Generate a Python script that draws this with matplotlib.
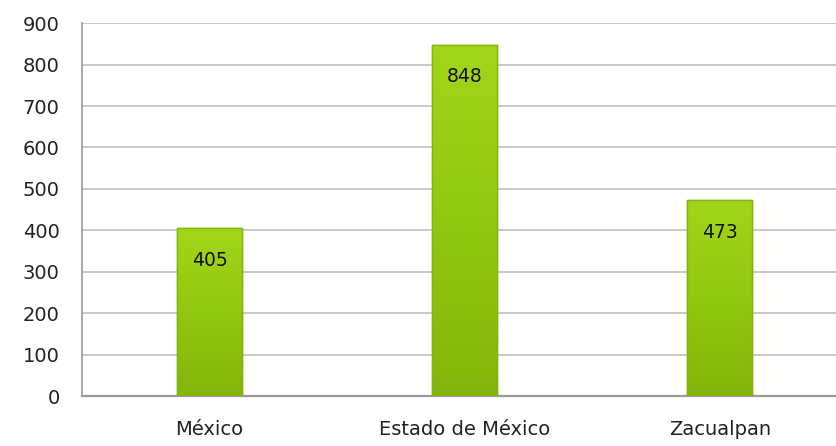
import numpy as np
import matplotlib.pyplot as plt
from matplotlib.colors import LinearSegmentedColormap

categories = ["México", "Estado de México", "Zacualpan"]
values = [405, 848, 473]
yticks = [0, 100, 200, 300, 400, 500, 600, 700, 800, 900]

plt.rcParams['font.family'] = ['DejaVu Sans']

fig = plt.figure(figsize=(8.36, 4.46), dpi=100)
ax = fig.add_axes([0.098, 0.112, 0.902, 0.836])

x = np.arange(len(categories))
width = 0.255
bars = ax.bar(x, values, width=width, color='#92c60f', edgecolor='#86b60c',
              linewidth=1.0, zorder=3)

# vertical gradient, lighter at the top
cmap = LinearSegmentedColormap.from_list('g', ['#84b40a', '#92c810', '#a2d61a'])
grad = np.linspace(0, 1, 128).reshape(-1, 1)
for b in bars:
    x0, y0 = b.get_x(), b.get_y()
    w, h = b.get_width(), b.get_height()
    im = ax.imshow(grad, cmap=cmap, aspect='auto', vmin=0, vmax=1,
                   extent=(x0, x0 + w, y0, y0 + h), zorder=3.5, origin='lower')
    im.set_clip_path(b)
    ax.bar(b.get_x() + w / 2, h, width=w, fill=False, edgecolor='#84b30c',
           linewidth=1.0, zorder=3.6)

for xi, v in zip(x, values):
    ax.annotate(str(v), (xi, v), xytext=(0, -23), textcoords='offset points',
                ha='center', va='center', fontsize=13.5, color='#111111', zorder=5)

ax.set_xlim(-0.5, (836 - 82.5) / 255 - 0.5)
ax.set_ylim(0, 900)
ax.set_yticks(yticks)
ax.set_xticks(x)
ax.set_xticklabels(categories)
ax.yaxis.grid(True, color='#c4c4c4', linewidth=1.3, zorder=0)
ax.set_axisbelow(True)
ax.tick_params(axis='both', length=0, labelsize=14, colors='#222222')
ax.tick_params(axis='y', pad=16)
ax.tick_params(axis='x', pad=17)
for s in ['top', 'right']:
    ax.spines[s].set_visible(False)
ax.spines['left'].set_color('#9a9a9a')
ax.spines['left'].set_linewidth(1.2)
ax.spines['bottom'].set_color('#9a9a9a')
ax.spines['bottom'].set_linewidth(1.6)

fig.savefig('out.png', dpi=100)
